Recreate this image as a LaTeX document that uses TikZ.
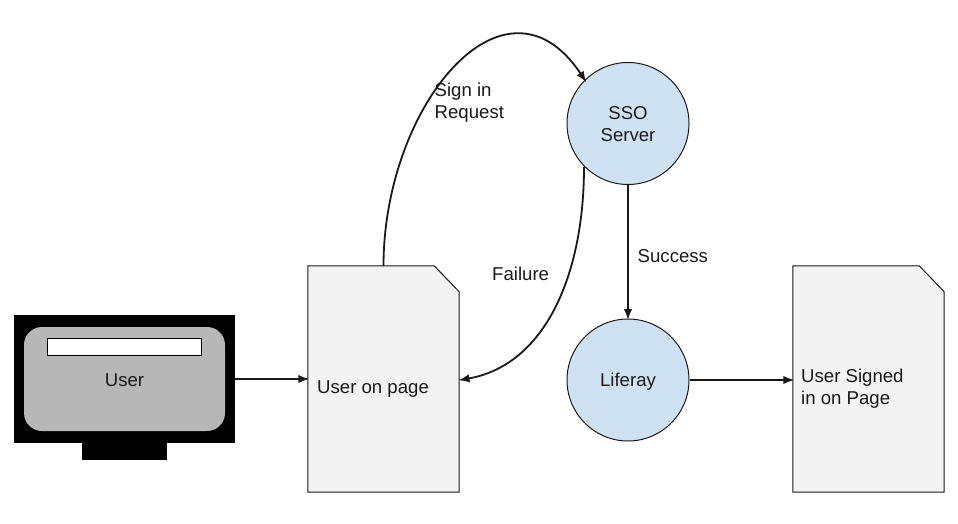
\documentclass[tikz,border=0pt]{standalone}
\usepackage{fontspec}
\setmainfont{Liberation Sans}
\usetikzlibrary{arrows.meta}
\tikzset{
  x=1pt,y=-1pt,
  txt/.style={inner sep=0pt,font=\fontsize{18.6}{22}\selectfont,text=black!90},
  ltxt/.style={txt,anchor=west,align=left},
  proc/.style={circle,draw=black!90,line width=1pt,fill=procblue,minimum size=122pt,inner sep=0pt,txt,align=center},
  pagebox/.style={inner sep=0pt,minimum width=151pt,minimum height=226pt},
  pageoutline/.style={draw=black!90,line width=1pt,fill=pagegray},
  conn/.style={draw=black!90,line width=1.8pt,-{Latex[length=11pt,width=8.5pt]},shorten >=-1.5pt},
  solidblk/.style={fill=black,inner sep=0pt},
}
\definecolor{procblue}{HTML}{CFE2F3}
\definecolor{pagegray}{HTML}{F3F3F3}
\definecolor{screengray}{HTML}{B7B7B7}
\begin{document}
\begin{tikzpicture}
\useasboundingbox (0,0) rectangle (958,524);
% monitor
\node[solidblk,minimum width=85pt,minimum height=17pt] (stand) at (124.5,451) {};
\node[solidblk,minimum width=221pt,minimum height=128pt] (monitor) at (124.5,379) {};
\node[fill=screengray,rounded corners=18pt,minimum width=201pt,minimum height=104pt,inner sep=0pt] (screen) at (124.5,379) {};
\node[draw=black,line width=0.8pt,fill=white,minimum width=154pt,minimum height=17pt,inner sep=0pt] (bar) at (124.5,346.5) {};
\node[txt] (user) at (124.5,380.5) {User};
% pages
\node[pagebox] (page1) at (383.5,379) {};
\node[pagebox] (page2) at (868.5,379) {};
\path[pageoutline] (page1.north west) -- ([xshift=-25pt]page1.north east) -- ([yshift=-26pt]page1.north east) -- (page1.south east) -- (page1.south west) -- cycle;
\path[pageoutline] (page2.north west) -- ([xshift=-25pt]page2.north east) -- ([yshift=-26pt]page2.north east) -- (page2.south east) -- (page2.south west) -- cycle;
\node[ltxt] (page1t) at (317,389) {User on page};
\node[ltxt] (page2t) at (801,389) {User Signed\\in on Page};
% processes
\node[proc] (sso) at (628,123.5) {};
\node[txt,align=center] (ssot) at (628,124.5) {SSO\\Server};
\node[proc] (lif) at (628,380) {};
\node[txt] (lift) at (628,381.5) {Liferay};
% connectors
\coordinate (s1) at (383.5,266);
\coordinate (e1) at (585.5,81);
\coordinate (s2) at (584,167);
\coordinate (e2) at (460,380);
\draw[conn] (s1) .. controls (383.5,105) and (505,-40) .. (e1);
\draw[conn] (s2) .. controls (584,275) and (545,365) .. (e2);
\draw[conn] (sso.south) -- (lif.north);
\draw[conn] (monitor.east) -- (monitor.east -| page1.west);
\draw[conn] (lif.east) -- (lif.east -| page2.west);
% labels
\node[ltxt] (signin) at (434.5,103) {Sign in\\Request};
\node[ltxt] (fail) at (492,274) {Failure};
\node[ltxt] (succ) at (637.5,256.5) {Success};
\end{tikzpicture}
\end{document}
